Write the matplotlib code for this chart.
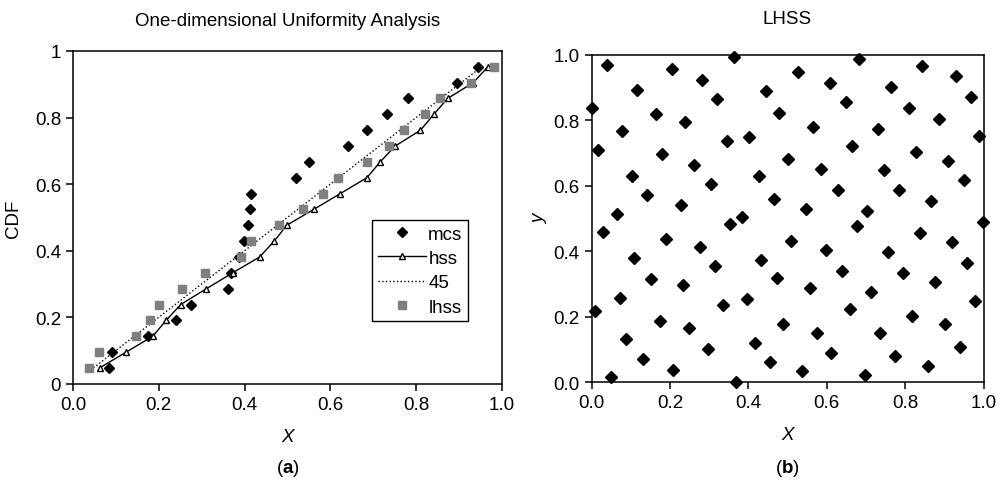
import numpy as np
import matplotlib
matplotlib.use('Agg')
import matplotlib.pyplot as plt
from matplotlib.ticker import FuncFormatter

plt.rcParams['font.family'] = ['Liberation Sans', 'DejaVu Sans']
plt.rcParams['font.size'] = 13.5
plt.rcParams['mathtext.fontset'] = 'custom'
plt.rcParams['mathtext.rm'] = 'Liberation Sans'
plt.rcParams['mathtext.bf'] = 'Liberation Sans:bold'

# Empirical CDF levels k/21 (20 samples per method)
cdf = np.arange(1, 21) / 21

mcs_x = [0.084, 0.090, 0.174, 0.239, 0.275, 0.362, 0.369, 0.388, 0.398, 0.407,
         0.413, 0.416, 0.519, 0.551, 0.640, 0.686, 0.731, 0.782, 0.895, 0.944]
hss_x = [0.062, 0.124, 0.186, 0.217, 0.251, 0.311, 0.372, 0.435, 0.469, 0.498,
         0.561, 0.623, 0.685, 0.716, 0.751, 0.810, 0.841, 0.873, 0.933, 0.967]
lhss_x = [0.038, 0.061, 0.147, 0.179, 0.200, 0.253, 0.308, 0.392, 0.415, 0.481,
          0.535, 0.583, 0.618, 0.686, 0.736, 0.772, 0.820, 0.856, 0.927, 0.981]

# 2-D LHSS design, 100 points
lhs_x = [0.040, 0.205, 0.364, 0.282, 0.000, 0.117, 0.320, 0.445, 0.165, 0.238,
         0.478, 0.016, 0.078, 0.181, 0.345, 0.402, 0.261, 0.103, 0.305, 0.428,
         0.141, 0.229, 0.465, 0.065, 0.383, 0.682, 0.528, 0.843, 0.930, 0.609,
         0.765, 0.968, 0.649, 0.809, 0.566, 0.731, 0.886, 0.988, 0.664, 0.828,
         0.500, 0.910, 0.586, 0.746, 0.950, 0.630, 0.785, 0.548, 0.703, 0.867,
         0.030, 0.189, 0.353, 0.278, 0.108, 0.314, 0.433, 0.151, 0.233, 0.474,
         0.010, 0.073, 0.335, 0.397, 0.175, 0.248, 0.089, 0.296, 0.418, 0.132,
         0.209, 0.456, 0.049, 0.369, 0.678, 0.998, 0.509, 0.597, 0.756, 0.838,
         0.920, 0.640, 0.794, 0.959, 0.557, 0.712, 0.876, 0.978, 0.659, 0.818,
         0.489, 0.576, 0.737, 0.901, 0.610, 0.774, 0.940, 0.538, 0.698, 0.858]
lhs_y = [0.970, 0.958, 0.993, 0.924, 0.837, 0.894, 0.865, 0.889, 0.820, 0.796,
         0.821, 0.710, 0.768, 0.697, 0.738, 0.750, 0.664, 0.629, 0.606, 0.629,
         0.572, 0.542, 0.561, 0.514, 0.503, 0.988, 0.947, 0.965, 0.937, 0.913,
         0.901, 0.872, 0.855, 0.837, 0.779, 0.774, 0.803, 0.751, 0.722, 0.704,
         0.681, 0.676, 0.652, 0.647, 0.618, 0.588, 0.588, 0.530, 0.524, 0.554,
         0.460, 0.436, 0.483, 0.414, 0.378, 0.356, 0.374, 0.315, 0.298, 0.317,
         0.218, 0.257, 0.235, 0.253, 0.188, 0.164, 0.131, 0.101, 0.119, 0.071,
         0.038, 0.061, 0.015, 0.000, 0.478, 0.490, 0.431, 0.404, 0.398, 0.455,
         0.427, 0.339, 0.333, 0.363, 0.287, 0.275, 0.305, 0.247, 0.223, 0.201,
         0.176, 0.149, 0.149, 0.176, 0.090, 0.080, 0.108, 0.033, 0.020, 0.050]

ticks = [0, 0.2, 0.4, 0.6, 0.8, 1.0]


def style_axes(ax):
    for sp in ax.spines.values():
        sp.set_linewidth(1.1)
    ax.tick_params(direction='out', length=5, width=1.1, top=False, right=False)
    ax.set_xlim(0, 1)
    ax.set_ylim(0, 1)
    ax.set_xticks(ticks)
    ax.set_yticks(ticks)
    ax.xaxis.set_major_formatter(FuncFormatter(lambda v, p: '%.1f' % v))


fig = plt.figure(figsize=(10, 4.81), dpi=100)
ax1 = fig.add_axes([0.073, 0.2, 0.429, 0.692])
ax2 = fig.add_axes([0.5915, 0.2037, 0.392, 0.680])

# (a) one-dimensional uniformity
ax1.plot(mcs_x, cdf, 'D', color='k', ms=5, ls='none', label='mcs')
ax1.plot(hss_x, cdf, '-^', color='k', lw=1, ms=4.5, mfc='white', mec='k',
         mew=1, label='hss')
ax1.plot(cdf, cdf, ':', color='k', lw=1, label='45')
ax1.plot(lhss_x, cdf, 's', color='#7f7f7f', ms=6, ls='none', label='lhss')
style_axes(ax1)
ax1.yaxis.set_major_formatter(FuncFormatter(lambda v, p: '%g' % v))
ax1.set_title('One-dimensional Uniformity Analysis', fontsize=13.5, pad=19)
ax1.set_xlabel('X', style='italic', labelpad=11)
ax1.set_ylabel('CDF', labelpad=9)
leg = ax1.legend(loc='upper left', bbox_to_anchor=(0.697, 0.492),
                 borderaxespad=0, fancybox=False, framealpha=1,
                 edgecolor='k', handlelength=2.6, handletextpad=0.1,
                 labelspacing=0.38, borderpad=0.3, markerfirst=True)
leg.get_frame().set_linewidth(1)

# (b) LHSS design
ax2.plot(lhs_x, lhs_y, 'D', color='k', ms=6.5, ls='none', clip_on=False, zorder=3)
style_axes(ax2)
ax2.set_title('LHSS', fontsize=13.5, pad=23)
ax2.set_xlabel('X', style='italic', labelpad=11)
ax2.set_ylabel('y', style='italic', labelpad=4)

fig.text(0.2875, 0.027, r'($\mathbf{a}$)', ha='center', va='center')
fig.text(0.7875, 0.027, r'($\mathbf{b}$)', ha='center', va='center')

fig.savefig('out.png', dpi=100)
